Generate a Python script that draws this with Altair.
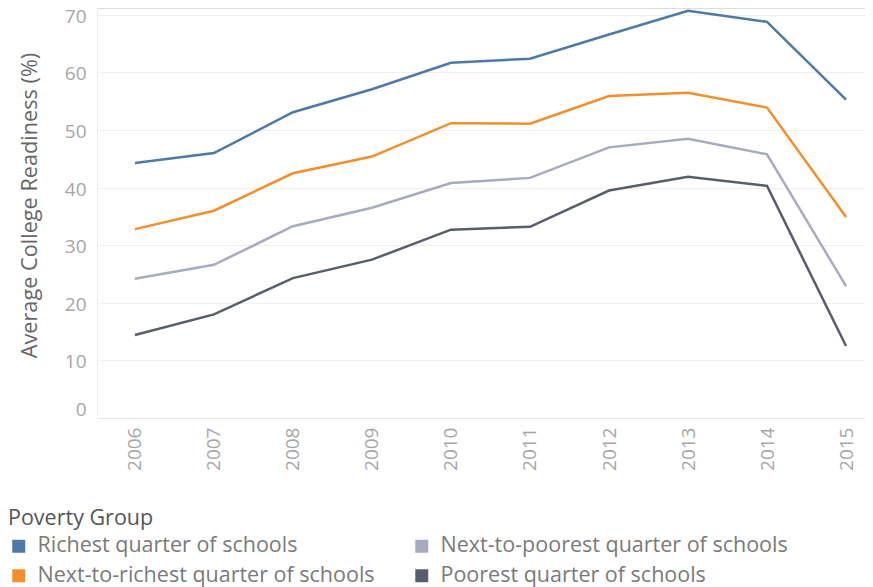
import altair as alt
import pandas as pd

years = list(range(2006, 2016))
richest = [44.3, 46.0, 53.1, 57.1, 61.7, 62.4, 66.6, 70.7, 68.8, 55.3]
next_richest = [32.8, 36.0, 42.5, 45.4, 51.2, 51.1, 55.9, 56.5, 53.9, 34.9]
next_poorest = [24.2, 26.6, 33.3, 36.5, 40.8, 41.7, 47.0, 48.5, 45.8, 22.9]
poorest = [14.4, 18.0, 24.3, 27.5, 32.7, 33.2, 39.5, 41.9, 40.3, 12.5]

groups = [
    "Richest quarter of schools",
    "Next-to-richest quarter of schools",
    "Next-to-poorest quarter of schools",
    "Poorest quarter of schools",
]
colors = ["#4e79a7", "#f28e2b", "#a7abbd", "#575e6a"]
series = [richest, next_richest, next_poorest, poorest]

rows = []
for g, vals in zip(groups, series):
    for y, v in zip(years, vals):
        rows.append({"Year": y, "Value": v, "Group": g})
df = pd.DataFrame(rows)

FONT = "Open Sans"

chart = (
    alt.Chart(df)
    .mark_line(strokeWidth=2.5)
    .encode(
        x=alt.X(
            "Year:Q",
            scale=alt.Scale(domain=[2005.52, 2015.24], nice=False, zero=False),
            axis=alt.Axis(
                values=years,
                format="d",
                labelAngle=270,
                labelFontSize=19,
                labelColor="#a6a6a6",
                labelFont=FONT,
                labelPadding=9,
                ticks=False,
                grid=False,
                domainColor="#e8e8e8",
                title=None,
            ),
        ),
        y=alt.Y(
            "Value:Q",
            scale=alt.Scale(domain=[0, 71.2], nice=False),
            axis=alt.Axis(
                values=[0, 10, 20, 30, 40, 50, 60, 70],
                labelFontSize=19,
                labelColor="#a6a6a6",
                labelFont=FONT,
                labelPadding=11,
                labelOffset=1.5,
                labelFlush=3,
                ticks=False,
                gridColor="#f0f0f0",
                domainColor="#eeeeee",
                title="Average College Readiness (%)",
                titleFontSize=21.7,
                titleFont=FONT,
                titleFontWeight="normal",
                titleColor="#666666",
                titleX=-68,
                titleY=197,
                titleAngle=270,
                titleAlign="center",
                titleBaseline="middle",
            ),
        ),
        color=alt.Color(
            "Group:N",
            scale=alt.Scale(domain=groups, range=colors),
            legend=alt.Legend(
                title="Poverty Group",
                orient="none",
                legendX=-89,
                legendY=500,
                columns=2,
                columnPadding=30,
                rowPadding=-3.5,
                symbolType="square",
                symbolSize=42,
                symbolStrokeWidth=6.5,
                symbolOpacity=1,
                labelFontSize=21.5,
                labelFont=FONT,
                labelColor="#7a7a7a",
                labelOffset=8,
                labelLimit=500,
                titleFontSize=21.5,
                titleFont=FONT,
                titleFontWeight="normal",
                titleColor="#555555",
                titlePadding=6,
            ),
        ),
    )
    .properties(
        width=768,
        height=410,
        autosize=alt.AutoSizeParams(type="none"),
        padding={"left": 89, "top": 0, "right": 0, "bottom": 169},
    )
    .configure_view(stroke=None)
    .configure(font=FONT)
)

chart.save("out.html", embed_options={"renderer": "svg", "actions": False})
